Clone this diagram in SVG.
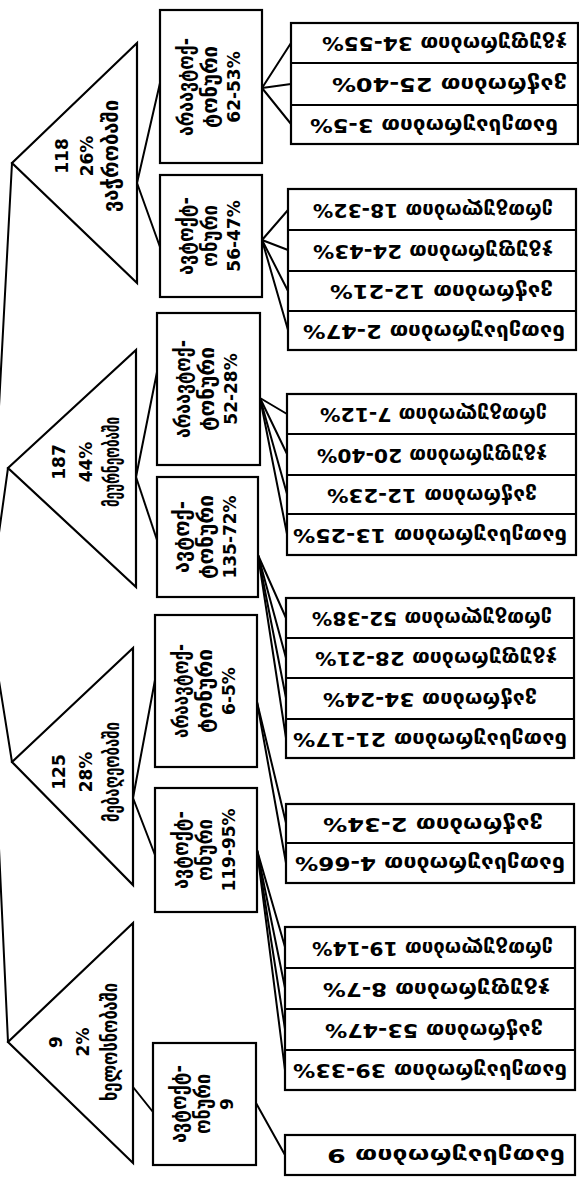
<svg xmlns="http://www.w3.org/2000/svg" width="579" height="1180" viewBox="0 0 579 1180">
<style>
.tri,.box{fill:#fff;stroke:#000;stroke-width:2.2;stroke-linejoin:miter}
.dv{stroke:#000;stroke-width:2}
#connectors line{stroke:#000;stroke-width:2;stroke-linecap:round}
text{font-family:"DejaVu Sans","Noto Sans",sans-serif;fill:#000;font-size:17px;text-anchor:middle;font-weight:bold}
.g{font-size:21px}
.lf{font-size:19px}
</style>
<rect width="579" height="1180" fill="#fff"/>
<g id="connectors">
<line x1="-12" y1="612" x2="12" y2="163"/>
<line x1="-12" y1="612" x2="8" y2="468"/>
<line x1="-12" y1="612" x2="12" y2="762"/>
<line x1="-12" y1="612" x2="8" y2="1042"/>
<line x1="137" y1="183" x2="160" y2="83"/>
<line x1="137" y1="183" x2="160" y2="247"/>
<line x1="136" y1="477" x2="157" y2="372"/>
<line x1="136" y1="477" x2="157" y2="540"/>
<line x1="133" y1="798" x2="155" y2="680"/>
<line x1="133" y1="798" x2="155" y2="855"/>
<line x1="133" y1="1087" x2="153" y2="1112"/>
<line x1="262" y1="88" x2="291" y2="43"/>
<line x1="262" y1="88" x2="291" y2="84"/>
<line x1="262" y1="88" x2="291" y2="124"/>
<line x1="262" y1="240" x2="288" y2="210"/>
<line x1="262" y1="240" x2="288" y2="250"/>
<line x1="262" y1="240" x2="288" y2="291"/>
<line x1="262" y1="240" x2="288" y2="330"/>
<line x1="260" y1="398" x2="287" y2="414"/>
<line x1="260" y1="398" x2="287" y2="454"/>
<line x1="260" y1="398" x2="287" y2="494"/>
<line x1="260" y1="398" x2="287" y2="534"/>
<line x1="258" y1="555" x2="286" y2="618"/>
<line x1="258" y1="555" x2="286" y2="658"/>
<line x1="258" y1="555" x2="286" y2="698"/>
<line x1="258" y1="555" x2="286" y2="738"/>
<line x1="257" y1="702" x2="286" y2="823"/>
<line x1="257" y1="702" x2="286" y2="863"/>
<line x1="257" y1="850" x2="285" y2="947"/>
<line x1="257" y1="850" x2="285" y2="988"/>
<line x1="257" y1="850" x2="285" y2="1029"/>
<line x1="257" y1="850" x2="285" y2="1070"/>
<line x1="256" y1="1103" x2="285" y2="1155"/>
</g>

<g id="cat118">
<polygon class="tri" points="12,163 137,43 137,283"/>
<text transform="translate(68,156) rotate(-90)">118</text>
<text transform="translate(93,156) rotate(-90)">26%</text>
<text class="g" transform="translate(118,156) rotate(-90)" textLength="112" lengthAdjust="spacingAndGlyphs">ვაჭრობაში</text>
</g>
<g id="cat187">
<polygon class="tri" points="8,468 136,350 136,587"/>
<text transform="translate(65,462) rotate(-90)">187</text>
<text transform="translate(92,462) rotate(-90)">44%</text>
<text class="g" transform="translate(119,462) rotate(-90)" textLength="90" lengthAdjust="spacingAndGlyphs">მეურნეობაში</text>
</g>
<g id="cat125">
<polygon class="tri" points="12,762 133,648 133,885"/>
<text transform="translate(65,772) rotate(-90)">125</text>
<text transform="translate(92,772) rotate(-90)">28%</text>
<text class="g" transform="translate(119,772) rotate(-90)" textLength="100" lengthAdjust="spacingAndGlyphs">მებაღეობაში</text>
</g>
<g id="cat9">
<polygon class="tri" points="8,1042 133,923 133,1163"/>
<text transform="translate(62,1042) rotate(-90)">9</text>
<text transform="translate(89,1042) rotate(-90)">2%</text>
<text class="g" transform="translate(117,1042) rotate(-90)" textLength="118" lengthAdjust="spacingAndGlyphs">ხელოსნობაში</text>
</g>

<g id="box118a">
<rect class="box" x="160" y="10" width="102" height="153"/>
<text class="g" transform="translate(193,87) rotate(-90)" textLength="98" lengthAdjust="spacingAndGlyphs">არაავტოქ-</text>
<text class="g" transform="translate(217,87) rotate(-90)" textLength="82" lengthAdjust="spacingAndGlyphs">ტონური</text>
<text transform="translate(240,87) rotate(-90)">62-53%</text>
</g>
<g id="box118b">
<rect class="box" x="160" y="175" width="102" height="122"/>
<text class="g" transform="translate(193,236) rotate(-90)" textLength="78" lengthAdjust="spacingAndGlyphs">ავტოქტ-</text>
<text class="g" transform="translate(217,236) rotate(-90)" textLength="62" lengthAdjust="spacingAndGlyphs">ონური</text>
<text transform="translate(240,236) rotate(-90)">56-47%</text>
</g>
<g id="box187a">
<rect class="box" x="157" y="313" width="103" height="152"/>
<text class="g" transform="translate(190,389) rotate(-90)" textLength="98" lengthAdjust="spacingAndGlyphs">არაავტოქ-</text>
<text class="g" transform="translate(214,389) rotate(-90)" textLength="84" lengthAdjust="spacingAndGlyphs">ტონური</text>
<text transform="translate(237,389) rotate(-90)">52-28%</text>
</g>
<g id="box187b">
<rect class="box" x="157" y="477" width="101" height="120"/>
<text class="g" transform="translate(189,537) rotate(-90)" textLength="72" lengthAdjust="spacingAndGlyphs">ავტოქ-</text>
<text class="g" transform="translate(213,537) rotate(-90)" textLength="84" lengthAdjust="spacingAndGlyphs">ტონური</text>
<text transform="translate(236,537) rotate(-90)">135-72%</text>
</g>
<g id="box125a">
<rect class="box" x="155" y="615" width="102" height="152"/>
<text class="g" transform="translate(188,691) rotate(-90)" textLength="94" lengthAdjust="spacingAndGlyphs">არაავტოქ-</text>
<text class="g" transform="translate(212,691) rotate(-90)" textLength="84" lengthAdjust="spacingAndGlyphs">ტონური</text>
<text transform="translate(235,691) rotate(-90)">6-5%</text>
</g>
<g id="box125b">
<rect class="box" x="155" y="788" width="102" height="124"/>
<text class="g" transform="translate(188,850) rotate(-90)" textLength="78" lengthAdjust="spacingAndGlyphs">ავტოქტ-</text>
<text class="g" transform="translate(212,850) rotate(-90)" textLength="62" lengthAdjust="spacingAndGlyphs">ონური</text>
<text transform="translate(235,850) rotate(-90)">119-95%</text>
</g>
<g id="box9">
<rect class="box" x="153" y="1043" width="103" height="122"/>
<text class="g" transform="translate(186,1104) rotate(-90)" textLength="78" lengthAdjust="spacingAndGlyphs">ავტოქტ-</text>
<text class="g" transform="translate(210,1104) rotate(-90)" textLength="60" lengthAdjust="spacingAndGlyphs">ონური</text>
<text transform="translate(233,1104) rotate(-90)">9</text>
</g>

<g id="leaves118a">
<rect class="box" x="291" y="23" width="287" height="121"/>
<line class="dv" x1="291" y1="63" x2="578" y2="63"/>
<line class="dv" x1="291" y1="105" x2="578" y2="105"/>
<text class="lf" x="444.5" y="49" transform="rotate(180 444.5 43)" textLength="245" lengthAdjust="spacingAndGlyphs">ჯგუფურობით  34-55%</text>
<text class="lf" x="449.5" y="90" transform="rotate(180 449.5 84)" textLength="235" lengthAdjust="spacingAndGlyphs">ვაჭრობით  25-40%</text>
<text class="lf" x="434" y="130.5" transform="rotate(180 434 124.5)" textLength="248" lengthAdjust="spacingAndGlyphs">ნათესაურობით  3-5%</text>
</g>
<g id="leaves118b">
<rect class="box" x="288" y="189" width="288" height="161"/>
<line class="dv" x1="288" y1="230" x2="576" y2="230"/>
<line class="dv" x1="288" y1="271" x2="576" y2="271"/>
<line class="dv" x1="288" y1="311" x2="576" y2="311"/>
<text class="lf" x="433" y="215.5" transform="rotate(180 433 209.5)" textLength="240" lengthAdjust="spacingAndGlyphs">ერთგულობით  18-32%</text>
<text class="lf" x="433" y="256.5" transform="rotate(180 433 250.5)" textLength="240" lengthAdjust="spacingAndGlyphs">ჯგუფურობით  24-43%</text>
<text class="lf" x="441.5" y="297" transform="rotate(180 441.5 291)" textLength="223" lengthAdjust="spacingAndGlyphs">ვაჭრობით  12-21%</text>
<text class="lf" x="434" y="336.5" transform="rotate(180 434 330.5)" textLength="262" lengthAdjust="spacingAndGlyphs">ნათესაურობით  2-47%</text>
</g>
<g id="leaves187a">
<rect class="box" x="287" y="394" width="289" height="161"/>
<line class="dv" x1="287" y1="434" x2="576" y2="434"/>
<line class="dv" x1="287" y1="475" x2="576" y2="475"/>
<line class="dv" x1="287" y1="514" x2="576" y2="514"/>
<text class="lf" x="433.5" y="420" transform="rotate(180 433.5 414)" textLength="227" lengthAdjust="spacingAndGlyphs">ერთგულობით  7-12%</text>
<text class="lf" x="432" y="460.5" transform="rotate(180 432 454.5)" textLength="230" lengthAdjust="spacingAndGlyphs">ჯგუფურობით  20-40%</text>
<text class="lf" x="432" y="500.5" transform="rotate(180 432 494.5)" textLength="210" lengthAdjust="spacingAndGlyphs">ვაჭრობით  12-23%</text>
<text class="lf" x="430" y="540.5" transform="rotate(180 430 534.5)" textLength="274" lengthAdjust="spacingAndGlyphs">ნათესაურობით  13-25%</text>
</g>
<g id="leaves187b">
<rect class="box" x="286" y="598" width="288" height="160"/>
<line class="dv" x1="286" y1="638" x2="574" y2="638"/>
<line class="dv" x1="286" y1="678" x2="574" y2="678"/>
<line class="dv" x1="286" y1="719" x2="574" y2="719"/>
<text class="lf" x="432" y="624" transform="rotate(180 432 618)" textLength="240" lengthAdjust="spacingAndGlyphs">ერთგულობით  52-38%</text>
<text class="lf" x="436" y="664" transform="rotate(180 436 658)" textLength="242" lengthAdjust="spacingAndGlyphs">ჯგუფურობით  28-21%</text>
<text class="lf" x="430" y="704.5" transform="rotate(180 430 698.5)" textLength="214" lengthAdjust="spacingAndGlyphs">ვაჭრობით  34-24%</text>
<text class="lf" x="430" y="744.5" transform="rotate(180 430 738.5)" textLength="274" lengthAdjust="spacingAndGlyphs">ნათესაურობით  21-17%</text>
</g>
<g id="leaves125a">
<rect class="box" x="286" y="804" width="288" height="79"/>
<line class="dv" x1="286" y1="843" x2="574" y2="843"/>
<text class="lf" x="433" y="829.5" transform="rotate(180 433 823.5)" textLength="220" lengthAdjust="spacingAndGlyphs">ვაჭრობით  2-34%</text>
<text class="lf" x="430" y="869" transform="rotate(180 430 863)" textLength="270" lengthAdjust="spacingAndGlyphs">ნათესაურობით  4-66%</text>
</g>
<g id="leaves125b">
<rect class="box" x="285" y="927" width="290" height="163"/>
<line class="dv" x1="285" y1="968" x2="575" y2="968"/>
<line class="dv" x1="285" y1="1009" x2="575" y2="1009"/>
<line class="dv" x1="285" y1="1050" x2="575" y2="1050"/>
<text class="lf" x="432.5" y="953.5" transform="rotate(180 432.5 947.5)" textLength="241" lengthAdjust="spacingAndGlyphs">ერთგულობით  19-14%</text>
<text class="lf" x="436.5" y="994.5" transform="rotate(180 436.5 988.5)" textLength="227" lengthAdjust="spacingAndGlyphs">ჯგუფურობით  8-7%</text>
<text class="lf" x="434" y="1035.5" transform="rotate(180 434 1029.5)" textLength="218" lengthAdjust="spacingAndGlyphs">ვაჭრობით  53-47%</text>
<text class="lf" x="430" y="1076" transform="rotate(180 430 1070)" textLength="274" lengthAdjust="spacingAndGlyphs">ნათესაურობით  39-33%</text>
</g>
<g id="leaves9">
<rect class="box" x="285" y="1135" width="290" height="40"/>
<text class="lf" x="446" y="1161" transform="rotate(180 446 1155)" textLength="238" lengthAdjust="spacingAndGlyphs">ნათესაურობით  9</text>
</g>
</svg>
